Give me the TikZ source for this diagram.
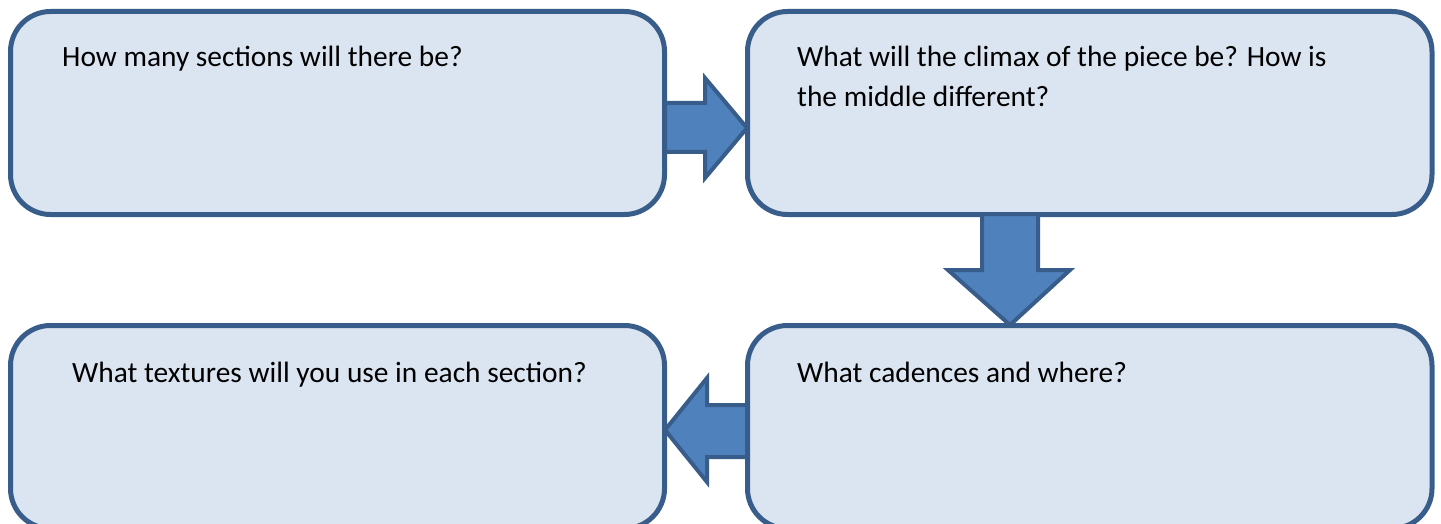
\documentclass[tikz,border=0pt]{standalone}
\usepackage{fontspec}
\setmainfont{Carlito}
\definecolor{boxfill}{HTML}{DBE5F1}
\definecolor{boxline}{HTML}{385D8A}
\definecolor{arrowfill}{HTML}{4F81BD}
\tikzset{
    planbox/.style={draw=boxline, fill=boxfill, line width=5pt, rounded corners=40pt,
        minimum width=654pt, minimum height=203pt, inner sep=0pt},
    widebox/.style={planbox, minimum width=684.5pt},
    question/.style={anchor=base west, inner sep=0pt, align=left,
        font=\fontsize{29.4pt}{40pt}\selectfont, text=black},
    fatarrow/.style={draw=boxline, fill=arrowfill, line width=4pt, line join=miter},
}
\begin{document}
\begin{tikzpicture}[x=1pt, y=-1pt]
    \useasboundingbox (0,0) rectangle (1441,524);
    \clip (0,0) rectangle (1441,524);

    % the four planning boxes
    \node[planbox] (sections) at (337.5,113) {};
    \node[widebox] (climax) at (1089.75,113) {};
    \node[widebox] (cadences) at (1089.75,427) {};
    \node[planbox] (textures) at (337.5,427) {};

    % base anchor sits on the last line
    \node[question] (q1) at (62,67) {How many sections will there be?};
    \node[question] (q2) at (797,107) {What will the climax of the piece be? How is\\the middle different?};
    \node[question] (q3) at (797,382) {What cadences and where?};
    \node[question] (q4) at (72,382) {What textures will you use in each section?};

    % block arrows between the boxes
    \draw[fatarrow] (665,103) -- (705,103) -- (705,78) -- (747,128)
        -- (705,178) -- (705,152) -- (665,152) -- cycle;
    \draw[fatarrow] (982,214) -- (1038,214) -- (1038,270) -- (1070,270)
        -- (1010,325) -- (948,270) -- (982,270) -- cycle;
    \draw[fatarrow] (747,405) -- (707,405) -- (707,378) -- (665,430)
        -- (707,482) -- (707,457) -- (747,457) -- cycle;
\end{tikzpicture}
\end{document}
